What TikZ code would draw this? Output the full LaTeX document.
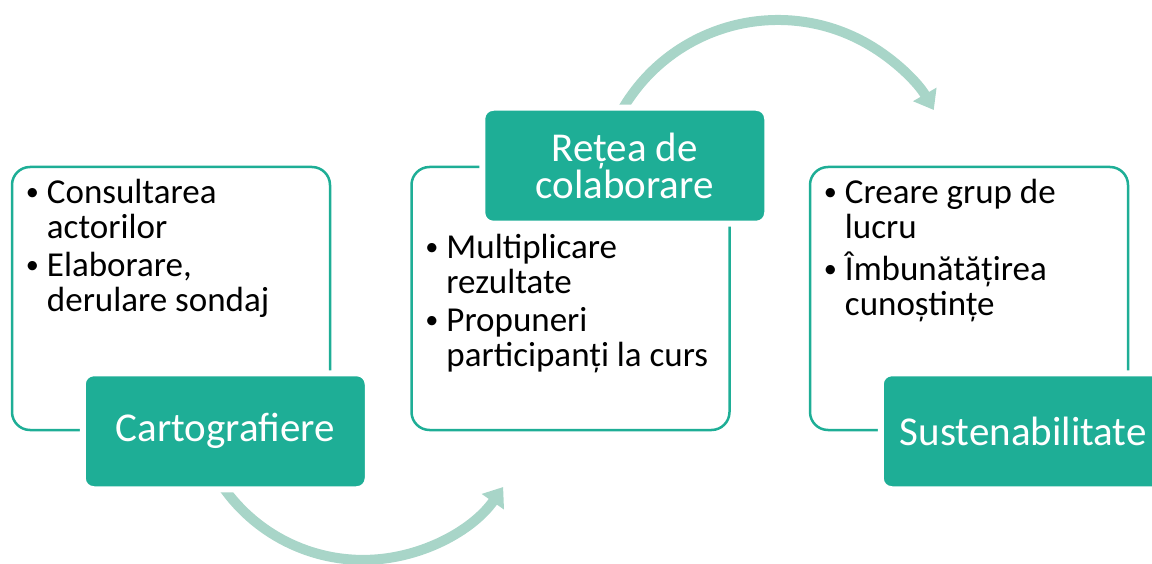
\documentclass[tikz,border=0pt]{standalone}
\usepackage{fontspec}
\setmainfont{Carlito}
\usetikzlibrary{arrows.meta}
\definecolor{tealfill}{HTML}{1EAE96}
\definecolor{tealarc}{HTML}{A8D5C8}
\newcommand{\bul}{\makebox[20pt][l]{\hspace{-1pt}\raisebox{3pt}{\scalebox{0.75}{\textbullet}}}}
\begin{document}
\begin{tikzpicture}[x=1pt,y=-1pt,
        panel/.style={draw=tealfill,line width=2.5pt,rounded corners=18pt,
            minimum width=318pt,minimum height=263pt,inner sep=0pt},
        tag/.style={fill=tealfill,draw=white,line width=6pt,rounded corners=11pt,
            minimum width=285pt,minimum height=116pt,text=white,align=center,
            font=\fontsize{41}{37}\selectfont},
        items/.style={inner sep=0pt,anchor=base west,font=\fontsize{35}{35}\selectfont},
        flow/.style={draw=tealarc,line width=10pt,-{Triangle[width=26pt,length=18pt]}}]
\useasboundingbox (0,0) rectangle (1152,564);
\clip (0,0) rectangle (1152,564);

\coordinate (a1) at (622,110);
\coordinate (a2) at (223,487);
\draw[flow] (a1) arc[start angle=150,end angle=30,radius=180pt];
\draw[flow] (a2) arc[start angle=215,end angle=325,radius=171pt];

\node[panel] (box1) at (171,298.5) {};
\node[panel] (box2) at (570.5,298.5) {};
\node[panel] (box3) at (969,298.5) {};

\node[items] (txt1) at ([shift={(16,38)}]box1.north west)
    {\begin{tabular}[t]{@{}l@{}l@{}}
     \bul & Consultarea\\ & actorilor\\[3pt]
     \bul & Elaborare,\\ & derulare sondaj
     \end{tabular}};
\node[items] (txt2) at ([shift={(16,93)}]box2.north west)
    {\begin{tabular}[t]{@{}l@{}l@{}}
     \bul & Multiplicare\\ & rezultate\\[3pt]
     \bul & Propuneri\\ & participanți la curs
     \end{tabular}};
\node[items] (txt3) at ([shift={(16,38)}]box3.north west)
    {\begin{tabular}[t]{@{}l@{}l@{}}
     \bul & Creare grup de\\ & lucru\\[3pt]
     \bul & Îmbunătățirea\\ & cunoștințe
     \end{tabular}};

\node[tag] (lab1) at ([xshift=-106pt]box1.south east) {Cartografiere};
\node[tag] (lab2) at ([xshift=-106pt]box2.north east) {Rețea de\\colaborare};
\node[tag] (lab3) at ([xshift=-106pt]box3.south east) {Sustenabilitate};
\end{tikzpicture}
\end{document}
